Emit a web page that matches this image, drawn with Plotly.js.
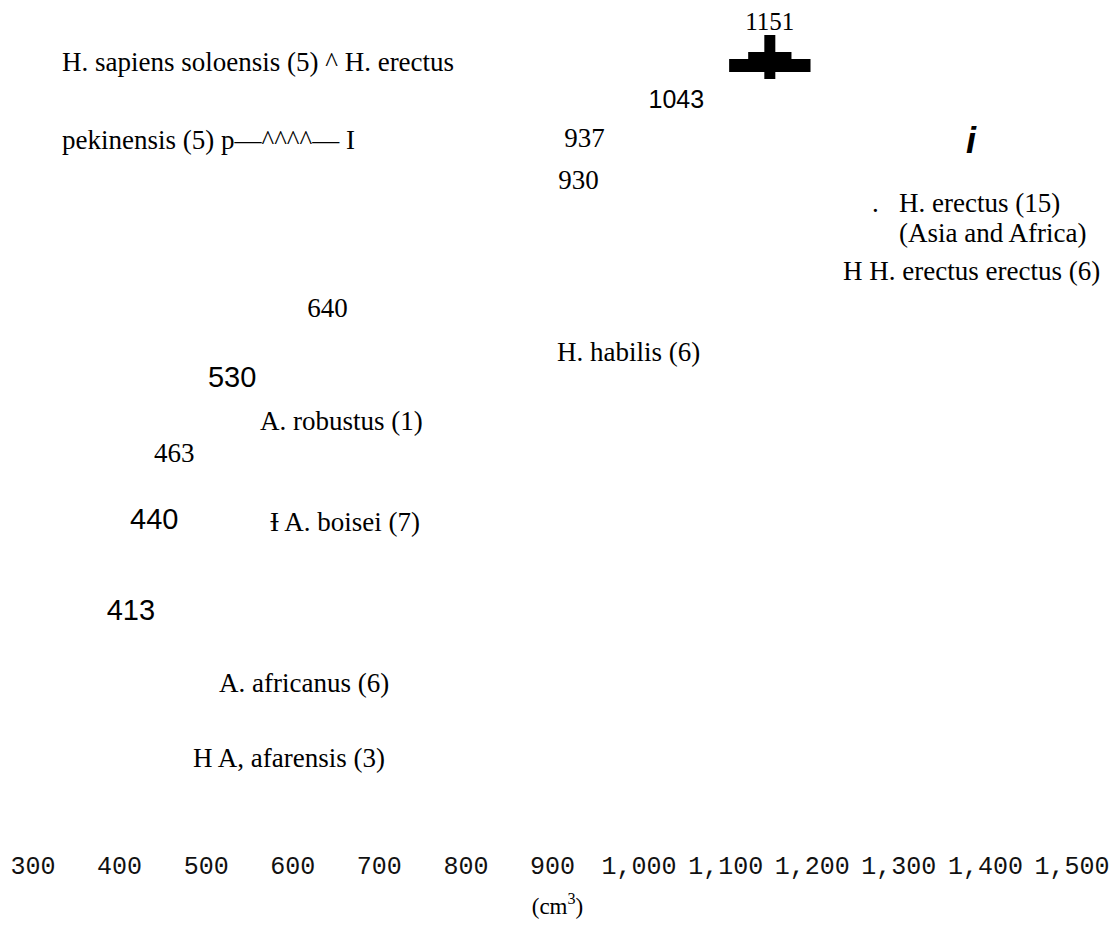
<!DOCTYPE html>
<html>
<head>
<meta charset="utf-8">
<script src="https://cdn.plot.ly/plotly-3.0.1.min.js"></script>
<style>
  html, body { margin: 0; padding: 0; background: #fff; }
  #chart { width: 1115px; height: 926px; }
</style>
</head>
<body>
<div id="chart"></div>
<script>
// ---- DATA ----
const meanLabels   = ['1151', '1043', '937', '930', '640', '530', '463', '440', '413'];
const meanValues   = [1151, 1043, 937, 930, 640, 530, 463, 440, 413];
const speciesNames = [
  'H. sapiens soloensis (5) ^ H. erectus',
  'pekinensis (5) p\u2014^^^^\u2014 I',
  '.\u00a0\u00a0 H. erectus (15)',
  '(Asia and Africa)',
  'H H. erectus erectus (6)',
  'H. habilis (6)',
  'A. robustus (1)',
  '\u0197 A. boisei (7)',
  'A. africanus (6)',
  'H A, afarensis (3)'
];
const erectusMean  = 1151;
const erectusOuter = [1104, 1198];
const erectusInner = [1126, 1176];
const tickValues   = [300, 400, 500, 600, 700, 800, 900, 1000, 1100, 1200, 1300, 1400, 1500];
const tickLabels   = ['300', '400', '500', '600', '700', '800', '900', '1,000', '1,100', '1,200', '1,300', '1,400', '1,500'];
const axisTitle    = '(cm<sup>3</sup>)';

// ---- LAYOUT / STYLE (positions in pixels from the top of the plot) ----
const W = 1115, H = 926, plotBottom = 848;
const SERIF = 'Liberation Serif, Times New Roman, serif';
const SANS = 'Liberation Sans, Arial, sans-serif';
const NARROW = 'Liberation Sans Narrow, Arial Narrow, Liberation Sans, sans-serif';
const MONO = 'Liberation Mono, Courier New, monospace';

const meanRows  = [24, 102, 140, 182, 310, 380, 455, 522, 613];
const meanFonts = [SERIF, NARROW, SERIF, SERIF, SERIF, SANS, SERIF, SANS, SANS];
const meanSizes = [25, 25, 27, 27, 27, 29, 27, 29, 29];

// x pixel positions of 300 and 1500 ticks
const px300 = 33, px1500 = 1072;
const slope = (px1500 - px300) / 1200;
const xRange = [300 - px300 / slope, 300 + (W - px300) / slope];

const speciesLayout = [
  {x: 60,   y: 62,  anchor: 'left'},
  {x: 60,   y: 140, anchor: 'left'},
  {x: 1062, y: 203, anchor: 'right'},
  {x: 1088, y: 233, anchor: 'right'},
  {x: 1102, y: 271, anchor: 'right'},
  {x: 628,  y: 352, anchor: 'center'},
  {x: 258,  y: 421, anchor: 'left'},
  {x: 268,  y: 522, anchor: 'left'},
  {x: 217,  y: 683, anchor: 'left'},
  {x: 191,  y: 758, anchor: 'left'}
];

const traces = [
  { // mean value labels
    type: 'scatter', mode: 'text',
    x: meanValues, y: meanRows, text: meanLabels,
    textposition: 'middle center',
    textfont: {family: meanFonts, size: meanSizes, color: '#000'},
    hoverinfo: 'skip', showlegend: false
  },
  { // H. erectus outer bar
    type: 'scatter', mode: 'lines',
    x: erectusOuter, y: [65.5, 65.5],
    line: {color: '#000', width: 13},
    hoverinfo: 'skip', showlegend: false
  },
  { // inner raised bar
    type: 'scatter', mode: 'lines',
    x: erectusInner, y: [62, 62],
    line: {color: '#000', width: 20},
    hoverinfo: 'skip', showlegend: false
  },
  { // mean tick
    type: 'scatter', mode: 'lines',
    x: [erectusMean, erectusMean], y: [35, 79],
    line: {color: '#000', width: 11},
    hoverinfo: 'skip', showlegend: false
  }
];

const annotations = speciesNames.map((t, i) => ({
  text: t, xref: 'paper', yref: 'y',
  x: speciesLayout[i].x / W, y: speciesLayout[i].y,
  xanchor: speciesLayout[i].anchor, yanchor: 'middle',
  showarrow: false,
  font: {family: SERIF, size: 27, color: '#000'}
}));
annotations.push({
  text: 'i', xref: 'paper', yref: 'y', x: 971 / W, y: 140,
  xanchor: 'center', yanchor: 'middle', showarrow: false,
  font: {family: SANS, size: 36, color: '#000', weight: 'bold', style: 'italic'}
});

const layout = {
  width: W, height: H,
  margin: {l: 0, r: 0, t: 0, b: H - plotBottom, pad: 0},
  paper_bgcolor: '#fff', plot_bgcolor: '#fff',
  showlegend: false,
  xaxis: {
    range: xRange, showgrid: false, zeroline: false, showline: false,
    ticks: '', tickvals: tickValues, ticktext: tickLabels,
    ticklabeloverflow: 'allow',
    tickfont: {family: MONO, size: 25, color: '#111'},
    title: {text: axisTitle, font: {family: SERIF, size: 23, color: '#000'}, standoff: 16},
    fixedrange: true
  },
  yaxis: {
    range: [plotBottom, 0], visible: false, showgrid: false, zeroline: false, fixedrange: true
  },
  annotations: annotations
};

Plotly.newPlot('chart', traces, layout, {displayModeBar: false, staticPlot: true});
</script>
</body>
</html>
